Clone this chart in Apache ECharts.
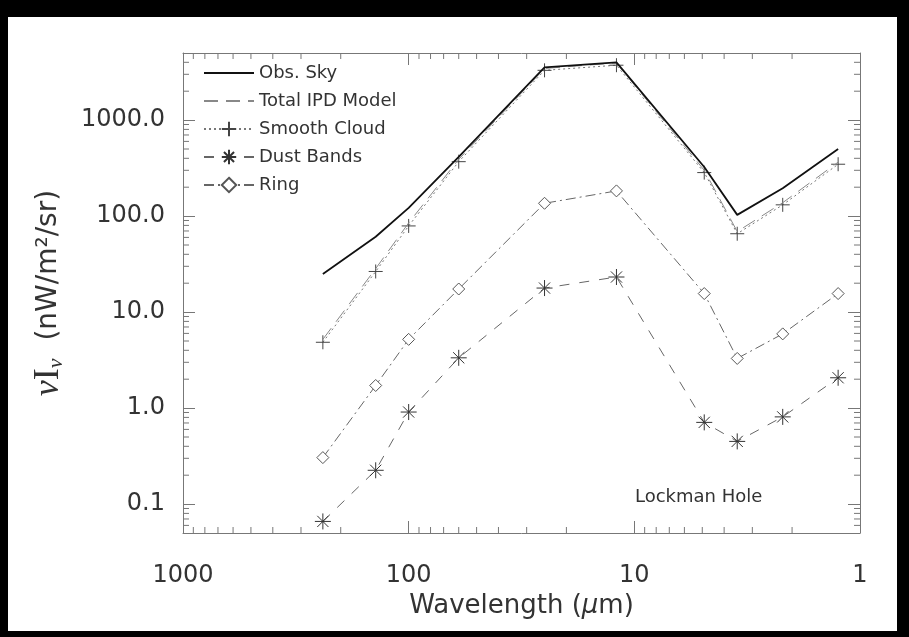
<!DOCTYPE html>
<html>
<head>
<meta charset="utf-8">
<script src="https://cdn.jsdelivr.net/npm/echarts@6/dist/echarts.min.js"></script>
<style>
  html, body { margin: 0; padding: 0; background: #000; }
  #frame { position: absolute; left: 8px; top: 17px; width: 889px; height: 614px; background: #fff; }
  #chart { position: absolute; left: 0; top: 0; width: 909px; height: 637px; }
</style>
</head>
<body>
<div id="frame"></div>
<div id="chart"></div>
<script>
// DIRBE band wavelengths (micron)
const wavelengths = [240, 140, 100, 60, 25, 12, 4.9, 3.5, 2.2, 1.25];
const obsSky      = [25, 61, 122, 415, 3550, 4000, 325, 103, 195, 500];
const totalIPD    = [5.2, 28.4, 85, 390, 3450, 3940, 300, 69, 138, 365];
const smoothCloud = [4.85, 26.5, 79, 369, 3300, 3730, 284, 65.5, 131, 347];
const dustBands   = [0.066, 0.225, 0.91, 3.34, 17.8, 23.2, 0.71, 0.45, 0.81, 2.07];
const ring        = [0.305, 1.72, 5.2, 17.4, 136, 183, 15.6, 3.29, 5.93, 15.6];

const xTickLabels = { 1000: '1000', 100: '100', 10: '10', 1: '1' };
const yTickLabels = { 0.1: '0.1', 1: '1.0', 10: '10.0', 100: '100.0', 1000: '1000.0' };
const xMinor = [2, 3, 4, 5, 6, 7, 8, 9, 20, 30, 40, 50, 60, 70, 80, 90,
                200, 300, 400, 500, 600, 700, 800, 900];
const yMinor = [0.06, 0.07, 0.08, 0.09, 0.2, 0.3, 0.4, 0.5, 0.6, 0.7, 0.8, 0.9,
                2, 3, 4, 5, 6, 7, 8, 9, 20, 30, 40, 50, 60, 70, 80, 90,
                200, 300, 400, 500, 600, 700, 800, 900, 2000, 3000, 4000];

const plusSym = 'path://M0,-10L0,10M-10,0L10,0';
const starSym = 'path://M0,-10L0,10M-10,0L10,0M-7,-7L7,7M-7,7L7,-7';
const diamondSym = 'path://M0,-10L10,0L0,10L-10,0Z';

const axisGray = '#777';
const textGray = '#333';

function pick(labels, v) {
  for (const k in labels) {
    if (Math.abs(Math.log10(v) - Math.log10(+k)) < 1e-6) return labels[k];
  }
  return '';
}

function pairs(ys) {
  return wavelengths.map((w, i) => [w, ys[i]]);
}

const chart = echarts.init(document.getElementById('chart'));

const tickLine = (x1, y1, x2, y2) => ({
  type: 'line',
  shape: { x1: x1, y1: y1, x2: x2, y2: y2 },
  style: { stroke: axisGray, lineWidth: 1 }
});

const xAxisBase = {
  type: 'log',
  inverse: true,
  min: 1,
  max: 1000,
  splitLine: { show: false },
  axisLine: { show: true, lineStyle: { color: axisGray, width: 1 } },
  axisTick: { show: true, inside: true, length: 12, lineStyle: { color: axisGray } }
};
const yAxisBase = {
  type: 'log',
  min: 0.05,
  max: 5000,
  splitLine: { show: false },
  axisLine: { show: true, lineStyle: { color: axisGray, width: 1 } },
  axisTick: { show: true, inside: true, length: 12, lineStyle: { color: axisGray } }
};

chart.setOption({
  animation: false,
  backgroundColor: 'transparent',
  grid: { left: 183, right: 49, top: 53, bottom: 104 },
  legend: {
    data: [
      { name: 'Obs. Sky', itemStyle: { opacity: 0 } },
      { name: 'Total IPD Model', itemStyle: { opacity: 0 } },
      'Smooth Cloud', 'Dust Bands', 'Ring'
    ],
    orient: 'vertical',
    left: 198,
    top: 59,
    itemWidth: 50,
    itemHeight: 18,
    itemGap: 10,
    selectedMode: false,
    textStyle: { fontFamily: 'DejaVu Sans', fontSize: 18, color: textGray }
  },
  xAxis: [
    Object.assign({}, xAxisBase, {
      position: 'bottom',
      name: '{a|Wavelength (}{m|μ}{a|m)}',
      nameLocation: 'middle',
      nameGap: 58,
      nameTextStyle: {
        rich: {
          a: { fontFamily: 'DejaVu Sans', fontSize: 26, color: textGray },
          m: { fontFamily: 'DejaVu Sans', fontSize: 26, fontStyle: 'italic', color: textGray }
        }
      },
      axisLabel: {
        margin: 31,
        fontFamily: 'DejaVu Sans',
        fontSize: 24,
        color: textGray,
        formatter: v => pick(xTickLabels, v)
      }
    }),
    Object.assign({}, xAxisBase, { position: 'top', axisLabel: { show: false } })
  ],
  yAxis: [
    Object.assign({}, yAxisBase, {
      position: 'left',
      name: '{g|ν}{i|I}{s|ν}{a|  (nW/m²/sr)}',
      nameLocation: 'middle',
      nameGap: 116,
      nameTextStyle: {
        rich: {
          g: { fontFamily: 'Liberation Serif', fontSize: 36, fontStyle: 'italic', color: textGray },
          i: { fontFamily: 'Liberation Serif', fontSize: 36, color: textGray },
          s: { fontFamily: 'Liberation Serif', fontSize: 22, fontStyle: 'italic', color: textGray, padding: [14, 0, 0, 0] },
          a: { fontFamily: 'DejaVu Sans', fontSize: 28, color: textGray }
        }
      },
      axisLabel: {
        margin: 18,
        fontFamily: 'DejaVu Sans',
        fontSize: 24,
        color: textGray,
        formatter: v => pick(yTickLabels, v)
      }
    }),
    Object.assign({}, yAxisBase, { position: 'right', axisLabel: { show: false } })
  ],
  graphic: [{
    type: 'text',
    left: 635,
    top: 488,
    style: { text: 'Lockman Hole', font: '18px "DejaVu Sans"', fill: textGray }
  }],
  series: [
    {
      name: 'Ring',
      type: 'line',
      data: pairs(ring),
      symbol: diamondSym,
      symbolSize: 12,
      itemStyle: { color: '#fff', borderColor: '#555', borderWidth: 1 },
      lineStyle: { color: '#666', width: 1, type: [10, 4, 2, 4] },
      z: 3
    },
    {
      name: 'Dust Bands',
      type: 'line',
      data: pairs(dustBands),
      symbol: starSym,
      symbolSize: 16,
      itemStyle: { color: '#333', borderColor: '#333', borderWidth: 1 },
      lineStyle: { color: '#666', width: 1, type: [10, 10] },
      z: 3
    },
    {
      name: 'Smooth Cloud',
      type: 'line',
      data: pairs(smoothCloud),
      symbol: plusSym,
      symbolSize: 14,
      itemStyle: { color: '#444', borderColor: '#444', borderWidth: 1 },
      lineStyle: { color: '#777', width: 1, type: [2, 3] },
      z: 3
    },
    {
      name: 'Total IPD Model',
      type: 'line',
      data: pairs(totalIPD),
      symbol: 'none',
      itemStyle: { color: '#888' },
      lineStyle: { color: '#888', width: 1, type: [14, 8] },
      z: 4
    },
    {
      name: 'Obs. Sky',
      type: 'line',
      data: pairs(obsSky),
      symbol: 'none',
      itemStyle: { color: '#111' },
      lineStyle: { color: '#111', width: 1.8 },
      z: 5
    },
    {
      type: 'custom',
      silent: true,
      xAxisIndex: 0,
      yAxisIndex: 0,
      data: yMinor.map(v => [10, v]),
      encode: { x: 0, y: 1 },
      renderItem: (params, api) => {
        const cs = params.coordSys;
        const y = api.coord([api.value(0), api.value(1)])[1];
        return {
          type: 'group',
          children: [
            tickLine(cs.x, y, cs.x + 6, y),
            tickLine(cs.x + cs.width - 6, y, cs.x + cs.width, y)
          ]
        };
      }
    },
    {
      type: 'custom',
      silent: true,
      xAxisIndex: 0,
      yAxisIndex: 0,
      data: xMinor.map(v => [v, 1]),
      encode: { x: 0, y: 1 },
      renderItem: (params, api) => {
        const cs = params.coordSys;
        const x = api.coord([api.value(0), api.value(1)])[0];
        return {
          type: 'group',
          children: [
            tickLine(x, cs.y + cs.height, x, cs.y + cs.height - 6),
            tickLine(x, cs.y, x, cs.y + 6)
          ]
        };
      }
    }
  ]
});
</script>
</body>
</html>
